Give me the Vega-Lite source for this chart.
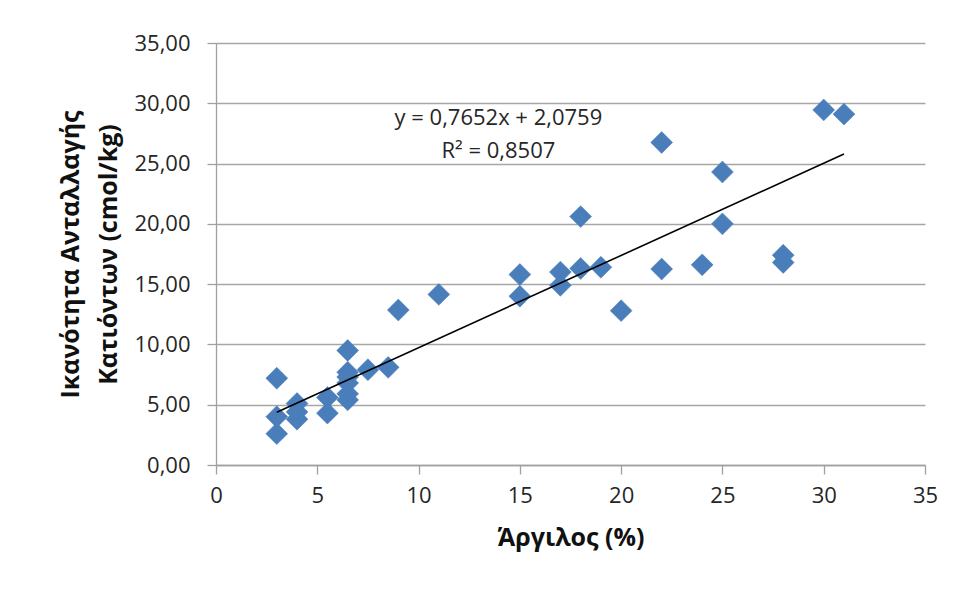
{
  "$schema": "https://vega.github.io/schema/vega-lite/v6.json",
  "autosize": {"type": "none"},
  "width": 709,
  "height": 422,
  "padding": {"left": 216, "top": 43, "right": 31, "bottom": 125},
  "background": "white",
  "config": {
    "view": {"stroke": null},
    "font": "Open Sans",
    "axis": {
      "labelFont": "Open Sans",
      "titleFont": "Open Sans",
      "labelColor": "#262626",
      "titleColor": "#111111",
      "domainColor": "#a0a0a0",
      "tickColor": "#a0a0a0",
      "gridColor": "#a6a6a6",
      "gridWidth": 1.3,
      "domainWidth": 1.3,
      "tickWidth": 1.3
    }
  },
  "datasets": {
    "points": [
      {"clay": 3, "cec": 7.2},
      {"clay": 3, "cec": 4.0},
      {"clay": 3, "cec": 2.6},
      {"clay": 4, "cec": 5.1},
      {"clay": 4, "cec": 4.4},
      {"clay": 4, "cec": 3.8},
      {"clay": 5.5, "cec": 5.6},
      {"clay": 5.5, "cec": 4.3},
      {"clay": 6.5, "cec": 9.5},
      {"clay": 6.5, "cec": 7.7},
      {"clay": 6.5, "cec": 7.3},
      {"clay": 6.5, "cec": 6.8},
      {"clay": 6.5, "cec": 5.9},
      {"clay": 6.5, "cec": 5.4},
      {"clay": 7.5, "cec": 7.9},
      {"clay": 8.5, "cec": 8.1},
      {"clay": 9, "cec": 12.85},
      {"clay": 11, "cec": 14.15},
      {"clay": 15, "cec": 15.8},
      {"clay": 15, "cec": 14.0},
      {"clay": 17, "cec": 16.0},
      {"clay": 17, "cec": 14.9},
      {"clay": 18, "cec": 20.6},
      {"clay": 18, "cec": 16.3},
      {"clay": 19, "cec": 16.4},
      {"clay": 20, "cec": 12.8},
      {"clay": 22, "cec": 26.75},
      {"clay": 22, "cec": 16.25},
      {"clay": 24, "cec": 16.6},
      {"clay": 25, "cec": 24.3},
      {"clay": 25, "cec": 20.0},
      {"clay": 28, "cec": 17.4},
      {"clay": 28, "cec": 16.8},
      {"clay": 30, "cec": 29.45},
      {"clay": 31, "cec": 29.1}
    ],
    "trend": [
      {"clay": 3, "cec": 4.3715},
      {"clay": 31, "cec": 25.7971}
    ],
    "labels": [
      {"clay": 13.94, "cec": 28.79, "text": "y = 0,7652x + 2,0759"},
      {"clay": 13.94, "cec": 26.06, "text": "R² = 0,8507"}
    ]
  },
  "layer": [
    {
      "data": {"name": "points"},
      "mark": {"type": "point", "shape": "diamond", "filled": true, "size": 480, "color": "#4a7ebb", "opacity": 1, "stroke": "#4a7ebb", "strokeWidth": 0.5},
      "encoding": {
        "x": {
          "field": "clay", "type": "quantitative",
          "scale": {"domain": [0, 35], "nice": false, "zero": true},
          "axis": {
            "values": [0, 5, 10, 15, 20, 25, 30, 35],
            "grid": false,
            "tickSize": 9,
            "labelFontSize": 22,
            "labelPadding": 11,
            "labelFlush": false,
            "title": "Άργιλος (%)",
            "titleFontSize": 25,
            "titleFontWeight": "bold",
            "titlePadding": 19
          }
        },
        "y": {
          "field": "cec", "type": "quantitative",
          "scale": {"domain": [0, 35], "nice": false, "zero": true},
          "axis": {
            "values": [0, 5, 10, 15, 20, 25, 30, 35],
            "grid": true,
            "tickSize": 9,
            "labelFontSize": 22,
            "labelPadding": 17,
            "labelFlush": false,
            "labelExpr": "replace(format(datum.value, '.2f'), '.', ',')",
            "title": ["Ικανότητα Ανταλλαγής", "Κατιόντων (cmol/kg)"],
            "titleFontSize": 25,
            "titleFontWeight": "bold",
            "titleLineHeight": 38,
            "titlePadding": 12
          }
        }
      }
    },
    {
      "data": {"name": "trend"},
      "mark": {"type": "line", "color": "#000000", "strokeWidth": 1.6},
      "encoding": {
        "x": {"field": "clay", "type": "quantitative"},
        "y": {"field": "cec", "type": "quantitative"}
      }
    },
    {
      "data": {"name": "labels"},
      "mark": {"type": "text", "fontSize": 22, "color": "#262626", "align": "center", "baseline": "middle", "font": "Open Sans"},
      "encoding": {
        "x": {"field": "clay", "type": "quantitative"},
        "y": {"field": "cec", "type": "quantitative"},
        "text": {"field": "text", "type": "nominal"}
      }
    }
  ]
}
